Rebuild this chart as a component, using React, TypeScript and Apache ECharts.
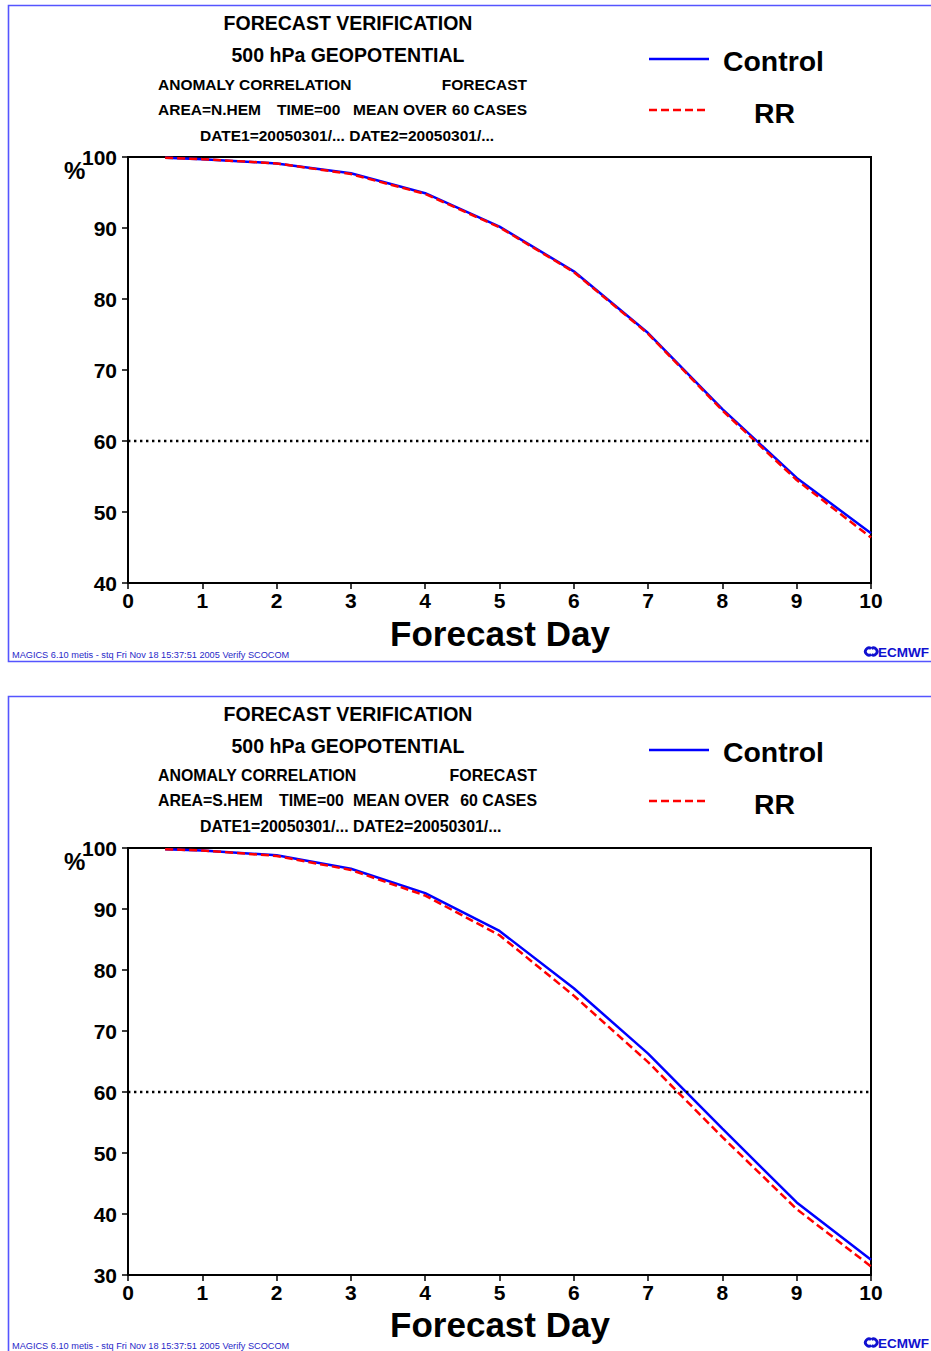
import React, { useEffect, useRef } from "react";
import * as echarts from "echarts";

// Forecast lead times (days)
const DAYS = [0.5, 1, 2, 3, 4, 5, 6, 7, 8, 9, 10];

// Anomaly correlation (%) of 500 hPa geopotential, northern hemisphere
const NH_CONTROL = [99.9, 99.7, 99.1, 97.7, 94.9, 90.2, 83.9, 75.2, 64.5, 54.8, 47.0];
const NH_RR = [99.9, 99.7, 99.1, 97.6, 94.8, 90.1, 83.8, 75.1, 64.3, 54.5, 46.4];

// Anomaly correlation (%) of 500 hPa geopotential, southern hemisphere
const SH_CONTROL = [99.8, 99.6, 98.8, 96.6, 92.6, 86.4, 77.0, 66.3, 54.0, 41.9, 32.5];
const SH_RR = [99.8, 99.6, 98.7, 96.4, 92.2, 85.7, 75.8, 64.9, 52.6, 40.8, 31.4];

const X_TICKS = [0, 1, 2, 3, 4, 5, 6, 7, 8, 9, 10];
const NH_Y_RANGE = [40, 100];
const SH_Y_RANGE = [30, 100];
const THRESHOLD = 60;

const SERIES_NAMES = ["Control", "RR"];
const FOOTER = "MAGICS 6.10 metis - stq Fri Nov 18 15:37:51 2005 Verify SCOCOM";

const FONT = "'Liberation Sans', Arial, Helvetica, sans-serif";
const PANEL_SHIFT = 691;

function pairs(xs: number[], ys: number[]) {
  return xs.map((x, i) => [x, ys[i]]);
}

function txt(text: string, x: number, y: number, size: number, opts: any = {}) {
  return {
    type: "text",
    x,
    y,
    silent: true,
    style: {
      text,
      fontSize: size,
      fontWeight: opts.weight ?? "bold",
      fontFamily: FONT,
      fill: opts.fill ?? "#000",
      align: opts.align ?? "left",
      verticalAlign: "middle",
    },
  };
}

function panelGraphics(dy: number, hemi: string, wide: boolean) {
  const g: any[] = [];
  const bottom = dy + 661.5;
  // blue page frame
  g.push({
    type: "polyline",
    silent: true,
    shape: { points: [[935, bottom], [8.5, bottom], [8.5, dy + 5.5], [935, dy + 5.5]] },
    style: { stroke: "#5555ff", lineWidth: 1.6, fill: null },
  });
  // header lines
  g.push(txt("FORECAST VERIFICATION", 348, dy + 23, 19.5, { align: "center" }));
  g.push(txt("500 hPa GEOPOTENTIAL", 348, dy + 55, 19.5, { align: "center" }));
  const s = wide ? 15.9 : 15.5;
  g.push(txt("ANOMALY CORRELATION", 158, dy + 84, s));
  g.push(txt("FORECAST", wide ? 537 : 527, dy + 84, s, { align: "right" }));
  g.push(txt(`AREA=${hemi}`, 158, dy + 109, s));
  g.push(txt("TIME=00", wide ? 279 : 277, dy + 109, s));
  g.push(txt("MEAN OVER", wide ? 353 : 353, dy + 109, s));
  g.push(txt("60 CASES", wide ? 537 : 527, dy + 109, s, { align: "right" }));
  g.push(txt("DATE1=20050301/... DATE2=20050301/...", 200, dy + 135, s));
  // legend
  g.push({
    type: "line",
    silent: true,
    shape: { x1: 649, y1: dy + 59, x2: 709, y2: dy + 59 },
    style: { stroke: "#0000ff", lineWidth: 2.5 },
  });
  g.push(txt(SERIES_NAMES[0], 723, dy + 61, 28.4));
  g.push({
    type: "line",
    silent: true,
    shape: { x1: 649, y1: dy + 110, x2: 709, y2: dy + 110 },
    style: { stroke: "#ff0000", lineWidth: 2.5, lineDash: [8, 4] },
  });
  g.push(txt(SERIES_NAMES[1], 754, dy + 113, 28.4));
  // axis annotations
  g.push(txt("%", 64, dy + 170, 24));
  g.push(txt("Forecast Day", 500, dy + 633, 35, { align: "center" }));
  // footer
  g.push(txt(FOOTER, 12, dy + 655, 9.2, { weight: "normal", fill: "#2828c8" }));
  // ECMWF mark
  g.push({
    type: "arc",
    silent: true,
    shape: { cx: 869, cy: dy + 651.5, r: 3.6, startAngle: Math.PI * 0.3, endAngle: Math.PI * 1.7 },
    style: { stroke: "#1010d0", lineWidth: 2.8, fill: null },
  });
  g.push({
    type: "arc",
    silent: true,
    shape: { cx: 873.5, cy: dy + 651.5, r: 3.6, startAngle: -Math.PI * 0.7, endAngle: Math.PI * 0.7 },
    style: { stroke: "#1010d0", lineWidth: 2.8, fill: null },
  });
  g.push({
    type: "text",
    x: 878,
    y: dy + 652,
    silent: true,
    style: {
      text: "ECMWF",
      fontSize: 13.5,
      fontWeight: 900,
      fontFamily: "'Liberation Sans Narrow', 'Liberation Sans', Arial, sans-serif",
      fill: "#1010d0",
      align: "left",
      verticalAlign: "middle",
    },
  });
  return g;
}

function axisPair(gridIndex: number, range: number[]) {
  const label = {
    show: true,
    fontSize: 21,
    fontWeight: "bold",
    fontFamily: FONT,
    color: "#000",
  };
  const xAxis = {
    type: "value",
    gridIndex,
    min: X_TICKS[0],
    max: X_TICKS[X_TICKS.length - 1],
    interval: 1,
    axisLine: { show: true, lineStyle: { color: "#000", width: 2 } },
    axisTick: { show: true, inside: false, length: 6, lineStyle: { color: "#000", width: 1.5 } },
    axisLabel: { ...label, margin: 7 },
    splitLine: { show: false },
  };
  const yAxis = {
    type: "value",
    gridIndex,
    min: range[0],
    max: range[1],
    interval: 10,
    axisLine: { show: true, lineStyle: { color: "#000", width: 2 } },
    axisTick: { show: true, inside: false, length: 6, lineStyle: { color: "#000", width: 1.5 } },
    axisLabel: { ...label, margin: 11 },
    splitLine: { show: false },
  };
  return { xAxis, yAxis };
}

function seriesPair(idx: number, control: number[], rr: number[]) {
  return [
    {
      name: SERIES_NAMES[0],
      type: "line",
      xAxisIndex: idx,
      yAxisIndex: idx,
      data: pairs(DAYS, control),
      showSymbol: false,
      symbol: "none",
      lineStyle: { color: "#0000ff", width: 2.5 },
      z: 3,
      markLine: {
        silent: true,
        symbol: ["none", "none"],
        label: { show: false },
        lineStyle: { color: "#000", width: 2.4, type: [2.4, 3.6] },
        data: [{ yAxis: THRESHOLD }],
      },
    },
    {
      name: SERIES_NAMES[1],
      type: "line",
      xAxisIndex: idx,
      yAxisIndex: idx,
      data: pairs(DAYS, rr),
      showSymbol: false,
      symbol: "none",
      lineStyle: { color: "#ff0000", width: 2.5, type: [8, 4] },
      z: 4,
    },
  ];
}

export default function App() {
  const ref = useRef<HTMLDivElement>(null);

  useEffect(() => {
    if (!ref.current) return;
    const chart = echarts.init(ref.current, null, { renderer: "svg" });
    const a0 = axisPair(0, NH_Y_RANGE);
    const a1 = axisPair(1, SH_Y_RANGE);
    const gridStyle = { show: true, borderColor: "#000", borderWidth: 2, backgroundColor: "transparent" };
    chart.setOption({
      animation: false,
      backgroundColor: "#fff",
      grid: [
        { left: 128, top: 157, width: 743, height: 426, ...gridStyle },
        { left: 128, top: 157 + PANEL_SHIFT, width: 743, height: 427, ...gridStyle },
      ],
      xAxis: [a0.xAxis, a1.xAxis],
      yAxis: [a0.yAxis, a1.yAxis],
      series: [...seriesPair(0, NH_CONTROL, NH_RR), ...seriesPair(1, SH_CONTROL, SH_RR)],
      graphic: [...panelGraphics(0, "N.HEM", false), ...panelGraphics(PANEL_SHIFT, "S.HEM", true)],
    });
    return () => chart.dispose();
  }, []);

  return (
    <div
      ref={ref}
      style={{ position: "absolute", left: 0, top: 0, width: 931, height: 1351, background: "#fff" }}
    />
  );
}
